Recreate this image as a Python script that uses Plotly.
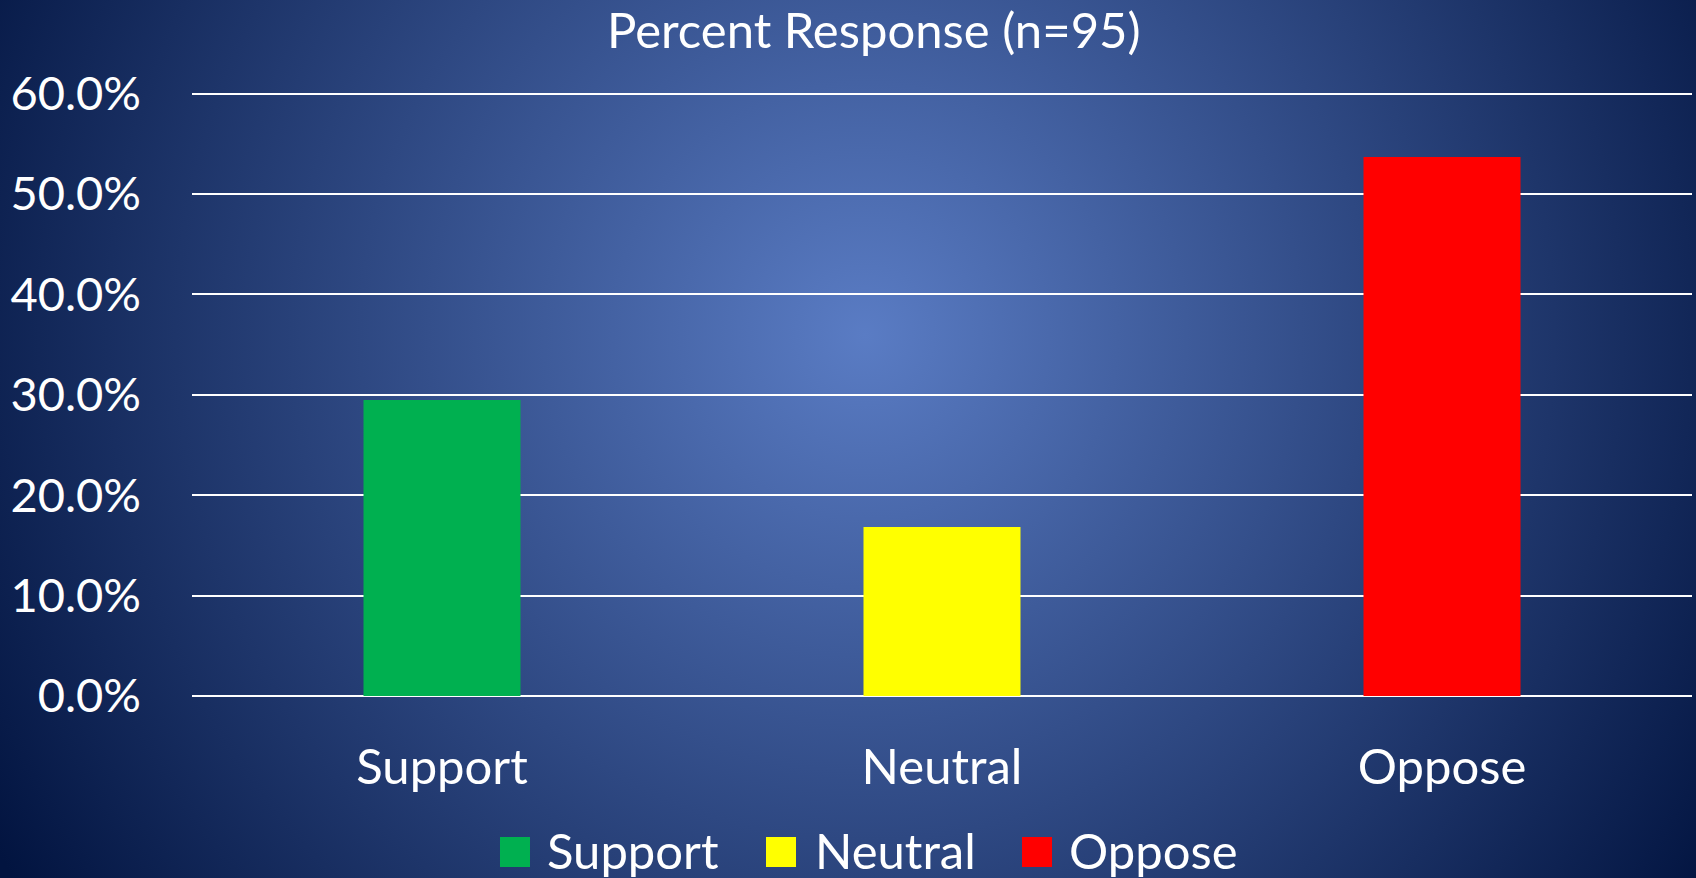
import base64
import plotly.graph_objects as go

# ---- data ----
categories = ["Support", "Neutral", "Oppose"]
percent_values = [0.2947, 0.1684, 0.5368]
bar_colors = ["#00B050", "#FFFF00", "#FF0000"]
y_tick_values = [0.0, 0.1, 0.2, 0.3, 0.4, 0.5, 0.6]
chart_title = "Percent Response (n=95)"

W, H = 1696, 878
L, R, T, B = 192, 4, 92, 182
PW, PH = W - L - R, H - T - B
FONT = "Lato, 'Open Sans', sans-serif"

svg = f'''<svg xmlns="http://www.w3.org/2000/svg" width="{W}" height="{H}" viewBox="0 0 {W} {H}">
<defs><radialGradient id="g" gradientUnits="userSpaceOnUse" cx="865" cy="335" r="1010">
<stop offset="0" stop-color="#5a7cc4"/><stop offset="1" stop-color="#021440"/></radialGradient></defs>
<rect width="{W}" height="{H}" fill="url(#g)"/></svg>'''
bg_src = "data:image/svg+xml;base64," + base64.b64encode(svg.encode()).decode()

fig = go.Figure()
fig.add_trace(go.Bar(x=categories, y=percent_values, marker=dict(color=bar_colors, line=dict(width=0)),
                     showlegend=False, hoverinfo="x+y"))

fig.add_layout_image(dict(source=bg_src, xref="paper", yref="paper",
                          x=-L / PW, y=1 + T / PH, sizex=W / PW, sizey=H / PH,
                          xanchor="left", yanchor="top", sizing="stretch", layer="below"))

# manual legend (large square swatches)
sq_left = [500, 766, 1022]
txt_left = [545, 813, 1067]
for name, col, sx, tx in zip(categories, bar_colors, sq_left, txt_left):
    fig.add_shape(type="rect", xref="paper", yref="paper",
                  x0=(sx - L) / PW, x1=(sx + 30 - L) / PW,
                  y0=(H - B - 867) / PH, y1=(H - B - 837) / PH,
                  fillcolor=col, line=dict(width=0))
    fig.add_annotation(text=name, xref="paper", yref="paper", x=(tx - L) / PW,
                       y=(H - B - 850) / PH, xanchor="left", yanchor="middle",
                       showarrow=False, font=dict(family=FONT, size=49, color="white"))

fig.add_annotation(text=chart_title, xref="paper", yref="paper", x=(874 - L) / PW,
                   y=(H - B - 29) / PH, xanchor="center", yanchor="middle", showarrow=False,
                   font=dict(family=FONT, size=49, color="white"))

fig.update_layout(
    width=W, height=H, autosize=False,
    margin=dict(l=L, r=R, t=T, b=B, pad=0),
    paper_bgcolor="#0c1e50", plot_bgcolor="rgba(0,0,0,0)",
    bargap=0.686,
    font=dict(family=FONT, color="white"),
    showlegend=False,
)
fig.update_yaxes(range=[0, 0.6015], tickvals=y_tick_values, tickformat=".1%",
                 showgrid=True, gridcolor="white", gridwidth=2,
                 zeroline=True, zerolinecolor="white", zerolinewidth=2,
                 showline=False, ticks="", ticklabelstandoff=50,
                 tickfont=dict(family=FONT, size=47, color="white"), fixedrange=True)
fig.update_xaxes(showgrid=False, showline=False, ticks="", ticklabelstandoff=38,
                 tickfont=dict(family=FONT, size=49, color="white"), fixedrange=True)

fig.write_html("out.html", config={"displayModeBar": False},
               post_script="document.body.style.margin='0';document.body.style.overflow='hidden';")
